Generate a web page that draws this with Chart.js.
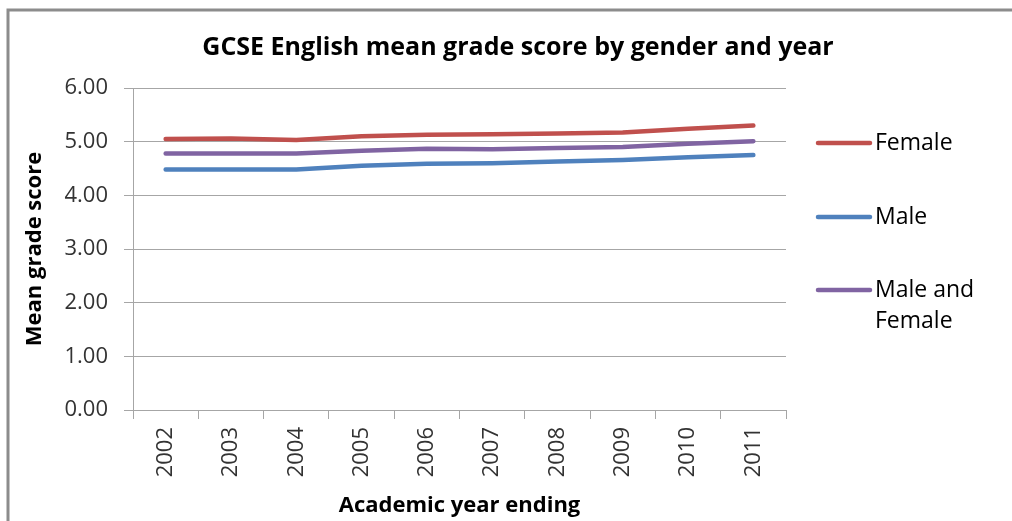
<!DOCTYPE html>
<html>
<head>
<meta charset="utf-8">
<script src="https://cdn.jsdelivr.net/npm/chart.js@4/dist/chart.umd.min.js"></script>
<style>
  html, body { margin: 0; padding: 0; background: #fff; }
  #chart { display: block; }
</style>
</head>
<body>
<canvas id="chart" width="1012" height="521"></canvas>
<script>
// data
const years = ['2002', '2003', '2004', '2005', '2006', '2007', '2008', '2009', '2010', '2011'];
const female = [5.05, 5.06, 5.03, 5.10, 5.13, 5.14, 5.15, 5.17, 5.24, 5.30];
const male = [4.48, 4.48, 4.48, 4.55, 4.59, 4.60, 4.63, 4.66, 4.71, 4.75];
const maleAndFemale = [4.78, 4.78, 4.78, 4.83, 4.87, 4.86, 4.88, 4.90, 4.96, 5.01];

const chartTitle = 'GCSE English mean grade score by gender and year';
const seriesNames = ['Female', 'Male', ['Male and', 'Female']];
const seriesColors = ['#c0504d', '#4f81bd', '#8064a2'];

const FONT = '"Open Sans", "Liberation Sans", sans-serif';
const GRID = '#a6a6a6';

// frame, title and legend drawn by hand (Excel style)
const excelFrame = {
  id: 'excelFrame',
  beforeDraw(chart) {
    const ctx = chart.ctx;
    ctx.save();
    ctx.fillStyle = '#fff';
    ctx.fillRect(0, 0, chart.width, chart.height);
    ctx.strokeStyle = '#8c8c8c';
    ctx.lineWidth = 3;
    ctx.beginPath();
    ctx.moveTo(8, chart.height);
    ctx.lineTo(8, 10);
    ctx.lineTo(chart.width, 10);
    ctx.stroke();

    ctx.fillStyle = '#000';
    ctx.font = 'bold 25px ' + FONT;
    ctx.textAlign = 'center';
    ctx.textBaseline = 'middle';
    ctx.fillText(chartTitle, 518, 48);
    ctx.restore();
  },
  afterDraw(chart) {
    const ctx = chart.ctx;
    const rows = [143, 217, 290];
    ctx.save();
    ctx.font = '23px ' + FONT;
    ctx.textAlign = 'left';
    ctx.textBaseline = 'middle';
    ctx.lineCap = 'round';
    ctx.lineWidth = 4.5;
    seriesNames.forEach((name, i) => {
      ctx.strokeStyle = seriesColors[i];
      ctx.beginPath();
      ctx.moveTo(818, rows[i]);
      ctx.lineTo(870, rows[i]);
      ctx.stroke();
      ctx.fillStyle = '#000';
      const lines = Array.isArray(name) ? name : [name];
      lines.forEach((t, j) => ctx.fillText(t, 875, rows[i] + j * 31));
    });
    ctx.restore();
  }
};

const datasets = [female, male, maleAndFemale].map((values, i) => ({
  label: Array.isArray(seriesNames[i]) ? seriesNames[i].join(' ') : seriesNames[i],
  data: values,
  borderColor: seriesColors[i],
  backgroundColor: seriesColors[i],
  borderWidth: 4.5,
  borderCapStyle: 'round',
  borderJoinStyle: 'round',
  pointRadius: 0,
  tension: 0,
  fill: false
}));

new Chart(document.getElementById('chart'), {
  type: 'line',
  data: { labels: years, datasets: datasets },
  plugins: [excelFrame],
  options: {
    responsive: false,
    animation: false,
    layout: { padding: { left: 0, top: 88, right: 226, bottom: 0 } },
    plugins: {
      legend: { display: false },
      title: { display: false },
      tooltip: { enabled: false }
    },
    scales: {
      x: {
        offset: true,
        grid: {
          offset: true,
          drawOnChartArea: false,
          drawTicks: true,
          tickLength: 9,
          color: GRID
        },
        border: { color: GRID, width: 1 },
        ticks: {
          minRotation: 90,
          maxRotation: 90,
          padding: 8,
          color: '#333',
          font: { family: FONT, size: 22 }
        },
        title: {
          display: true,
          text: 'Academic year ending',
          color: '#000',
          font: { family: FONT, size: 22, weight: 'bold' },
          padding: { top: 0, bottom: 2 }
        },
        afterFit(scale) { scale.height = 111; }
      },
      y: {
        min: 0,
        max: 6,
        grid: { color: GRID, tickLength: 9 },
        border: { color: GRID, width: 1 },
        ticks: {
          stepSize: 1,
          padding: 16,
          color: '#333',
          font: { family: FONT, size: 22 },
          callback: v => v.toFixed(2)
        },
        title: {
          display: true,
          text: 'Mean grade score',
          color: '#000',
          font: { family: FONT, size: 22, weight: 'bold' },
          padding: { top: 22, bottom: 0 }
        },
        afterFit(scale) { scale.width = 133; }
      }
    }
  }
});
</script>
</body>
</html>
